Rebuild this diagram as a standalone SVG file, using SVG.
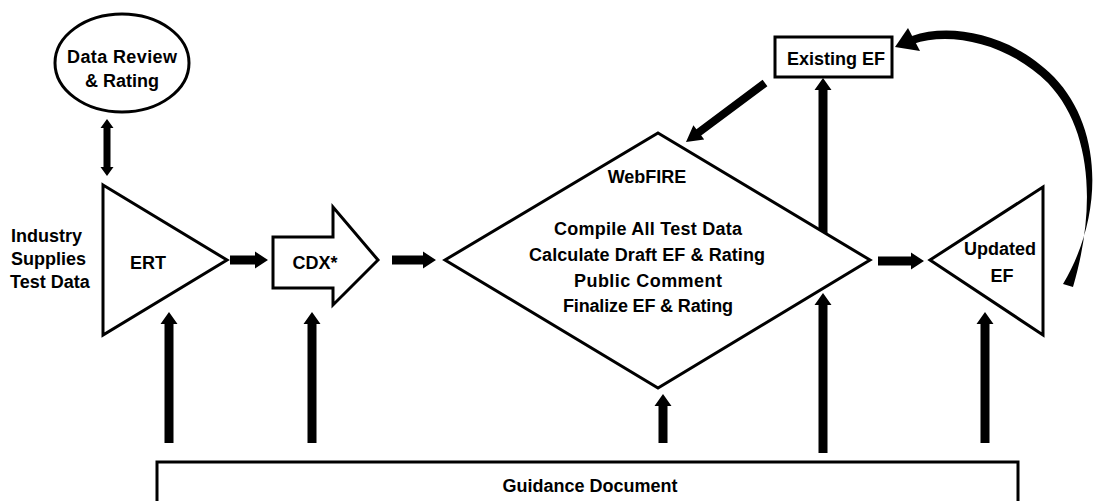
<svg xmlns="http://www.w3.org/2000/svg" width="1095" height="501" viewBox="0 0 1095 501">
<style>
.shape{fill:#fff;stroke:#000;stroke-width:3;stroke-linejoin:miter}
.arr{fill:#000;stroke:none}
.t{font-family:"Liberation Sans",Arial,sans-serif;font-weight:bold;font-size:18px;fill:#000;text-anchor:middle}
.tl{text-anchor:start}
</style>
<rect width="1095" height="501" fill="#fff"/>
<g id="connectors">
  <polygon class="arr" points="103.5,128 103.5,167 100.5,167 107,176 113.5,167 110.5,167 110.5,128 113.5,128 107,119 100.5,128"/>
  <polygon class="arr" points="230,255.5 255,255.5 255,251.5 268,260 255,268.5 255,264.5 230,264.5"/>
  <polygon class="arr" points="392,255.5 423,255.5 423,251.5 436,260 423,268.5 423,264.5 392,264.5"/>
  <polygon class="arr" points="878,256.5 911,256.5 911,252.5 924,261 911,269.5 911,265.5 878,265.5"/>
  <polygon class="arr" points="164.5,443 164.5,324 160.5,324 169,312 177.5,324 173.5,324 173.5,443"/>
  <polygon class="arr" points="307.5,443 307.5,324 303.5,324 312,312 320.5,324 316.5,324 316.5,443"/>
  <polygon class="arr" points="658.5,443 658.5,406 654.5,406 663,394 671.5,406 667.5,406 667.5,443"/>
  <polygon class="arr" points="818.5,453 818.5,305 814.5,305 823,293 831.5,305 827.5,305 827.5,453"/>
  <polygon class="arr" points="818.5,233 818.5,90 814.5,90 823,78 831.5,90 827.5,90 827.5,233"/>
  <polygon class="arr" points="980.5,443 980.5,324 976.5,324 985,312 993.5,324 989.5,324 989.5,443"/>
  <polygon class="arr" points="762.6,79.8 767.4,86.2 701.2,135.6 704.2,139.6 686,142 693.4,125.2 696.4,129.2"/>
  <path class="arr" d="M1063,284 C1104,215 1103,128 1054,77 C1013,35 952,22 912,36 L913,44 C950,31 1008,43 1048,83 C1094,132 1095,212 1073,287 Z"/>
  <polygon class="arr" points="895,47 908,28 920,51"/>
</g>
<g id="data-review">
  <ellipse class="shape" cx="122" cy="63" rx="67" ry="49" stroke-width="2.5"/>
  <text class="t" x="122" y="63" textLength="110">Data Review</text>
  <text class="t" x="122" y="87">&amp; Rating</text>
</g>
<g id="industry">
  <text class="t tl" x="11" y="242">Industry</text>
  <text class="t tl" x="11" y="265">Supplies</text>
  <text class="t tl" x="10" y="288">Test Data</text>
</g>
<g id="ert">
  <polygon class="shape" points="103,185 227,260 103,335"/>
  <text class="t" x="148" y="269">ERT</text>
</g>
<g id="cdx">
  <polygon class="shape" points="273,237 333,237 333,207 378,260 333,305 333,288 273,288"/>
  <text class="t" x="315" y="269">CDX*</text>
</g>
<g id="webfire">
  <polygon class="shape" points="658,133 870,260 658,388 445,260" stroke-width="2.5"/>
  <text class="t" x="647" y="183">WebFIRE</text>
  <text class="t" x="648" y="235" textLength="188">Compile All Test Data</text>
  <text class="t" x="647" y="261" textLength="236">Calculate Draft EF &amp; Rating</text>
  <text class="t" x="648" y="287" textLength="148">Public Comment</text>
  <text class="t" x="648" y="312" textLength="170">Finalize EF &amp; Rating</text>
</g>
<g id="existing-ef">
  <rect class="shape" x="775" y="37" width="117" height="40" stroke-width="2.5"/>
  <text class="t" x="836" y="65">Existing EF</text>
</g>
<g id="updated-ef">
  <polygon class="shape" points="930,260 1043,187 1043,335"/>
  <text class="t" x="1000" y="255">Updated</text>
  <text class="t" x="1002" y="282">EF</text>
</g>
<g id="guidance">
  <rect class="shape" x="157" y="462" width="861" height="60"/>
  <text class="t" x="590" y="492" font-size="21">Guidance Document</text>
</g>
</svg>
